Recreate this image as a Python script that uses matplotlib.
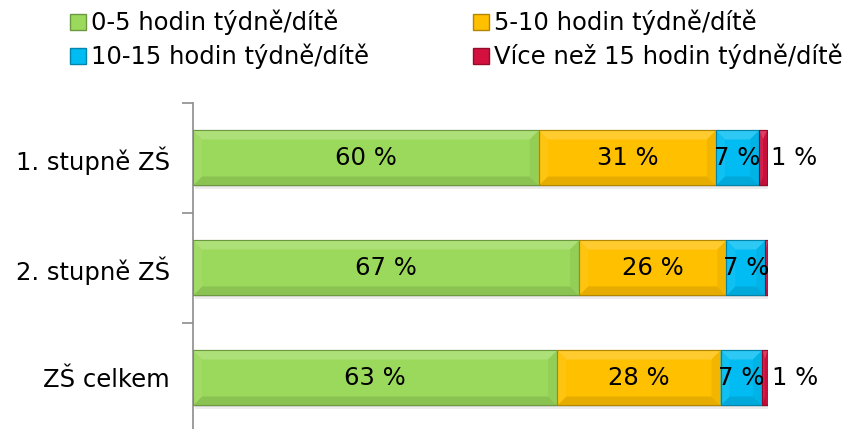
import matplotlib
matplotlib.use("Agg")
import matplotlib.pyplot as plt
import numpy as np
from matplotlib.patches import Polygon, Rectangle, Patch
from matplotlib.colors import to_rgb

plt.rcParams['font.family'] = ['DejaVu Sans']

categories = ["1. stupně ZŠ", "2. stupně ZŠ", "ZŠ celkem"]
series_names = ["0-5 hodin týdně/dítě", "5-10 hodin týdně/dítě",
                "10-15 hodin týdně/dítě", "Více než 15 hodin týdně/dítě"]
v_0_5 = [60.1, 67.1, 63.3]
v_5_10 = [30.8, 25.6, 28.4]
v_10_15 = [7.5, 6.8, 7.2]
v_15plus = [1.4, 0.45, 1.0]
labels_0_5 = ["60 %", "67 %", "63 %"]
labels_5_10 = ["31 %", "26 %", "28 %"]
labels_10_15 = ["7 %", "7 %", "7 %"]
labels_15plus = ["1 %", "", "1 %"]

series = [v_0_5, v_5_10, v_10_15, v_15plus]
labels = [labels_0_5, labels_5_10, labels_10_15, labels_15plus]
colors = ["#9BD95C", "#FFC000", "#00BCF2", "#D4103F"]

FS = 17.5
W, H = 843, 429
fig = plt.figure(figsize=(W / 100, H / 100), dpi=100)
ax = fig.add_axes([193 / W, 1 - 433 / H, (768.3 - 193) / W, (433 - 103) / H])
ax.set_xlim(0, 100)
ax.set_ylim(2.5, -0.5)

ax_w_px = (768.3 - 193)
ax_h_px = (433 - 103)
px_x = 100 / ax_w_px
px_y = 3 / ax_h_px


def mix(c, t, amt):
    c = np.array(to_rgb(c)); t = np.array(to_rgb(t))
    return tuple(c * (1 - amt) + t * amt)


bar_h = 0.5
y = np.arange(len(categories))
left = np.zeros(len(categories))
for si, vals in enumerate(series):
    col = colors[si]
    bars = ax.barh(y, vals, left=left, height=bar_h, color=col,
                   edgecolor=mix(col, 'black', 0.35), linewidth=0.8, zorder=3)
    for bi, b in enumerate(bars):
        x0, w = b.get_x(), b.get_width()
        y0, h = b.get_y(), b.get_height()
        x1, y1 = x0 + w, y0 + h
        # shadow
        ax.add_patch(Rectangle((x0 + 0.3, y0 + 4 * px_y), w, h, color='#000000',
                               alpha=0.07, zorder=2, linewidth=0))
        ax.add_patch(Rectangle((x0 + 0.2, y0 + 2 * px_y), w, h, color='#000000',
                               alpha=0.07, zorder=2, linewidth=0))
        bx = min(9 * px_x, w / 2)
        by = 9 * px_y
        # y axis inverted: y0 is top visually
        top = [(x0, y0), (x1, y0), (x1 - bx, y0 + by), (x0 + bx, y0 + by)]
        bot = [(x0, y1), (x1, y1), (x1 - bx, y1 - by), (x0 + bx, y1 - by)]
        lft = [(x0, y0), (x0 + bx, y0 + by), (x0 + bx, y1 - by), (x0, y1)]
        rgt = [(x1, y0), (x1 - bx, y0 + by), (x1 - bx, y1 - by), (x1, y1)]
        ax.add_patch(Polygon(top, closed=True, color=mix(col, 'white', 0.18), lw=0, zorder=3.5))
        ax.add_patch(Polygon(bot, closed=True, color=mix(col, 'black', 0.10), lw=0, zorder=3.5))
        ax.add_patch(Polygon(lft, closed=True, color=mix(col, 'white', 0.06), lw=0, zorder=3.5))
        ax.add_patch(Polygon(rgt, closed=True, color=mix(col, 'black', 0.05), lw=0, zorder=3.5))
        ax.add_patch(Rectangle((x0, y0), w, h, fill=False,
                               edgecolor=mix(col, 'black', 0.3), lw=0.8, zorder=3.6))
        txt = labels[si][bi]
        if txt:
            if si == 3:
                ax.text(x1 + 4 * px_x, b.get_y() + h / 2, txt, ha='left', va='center',
                        fontsize=FS, color='black', zorder=5, clip_on=False)
            else:
                ax.text(x0 + w / 2, b.get_y() + h / 2, txt, ha='center', va='center',
                        fontsize=FS, color='black', zorder=5)
    left = left + np.array(vals)

for s in ['top', 'right', 'bottom']:
    ax.spines[s].set_visible(False)
ax.spines['left'].set_color('#8c8c8c')
ax.spines['left'].set_linewidth(1.2)
ax.set_xticks([])
ax.set_yticks([-0.5, 0.5, 1.5, 2.5])
ax.set_yticklabels([])
ax.tick_params(axis='y', which='major', length=8, color='#8c8c8c', width=1.2)
ax.set_yticks(y, minor=True)
ax.set_yticklabels(categories, minor=True, fontsize=FS)
ax.tick_params(axis='y', which='minor', length=0, pad=16.5)

handles = [Patch(facecolor=c, edgecolor=mix(c, 'black', 0.3)) for c in colors]
order = [0, 2, 1, 3]
fig.legend(handles=[handles[i] for i in order],
           labels=[series_names[i] for i in order], loc='upper left',
           bbox_to_anchor=(60 / W, 1.0), ncol=2, frameon=False, fontsize=FS,
           handlelength=0.65, handleheight=0.65, handletextpad=0.22,
           columnspacing=4.28, labelspacing=0.35, borderaxespad=0.0)

fig.savefig("out.png", dpi=100)
